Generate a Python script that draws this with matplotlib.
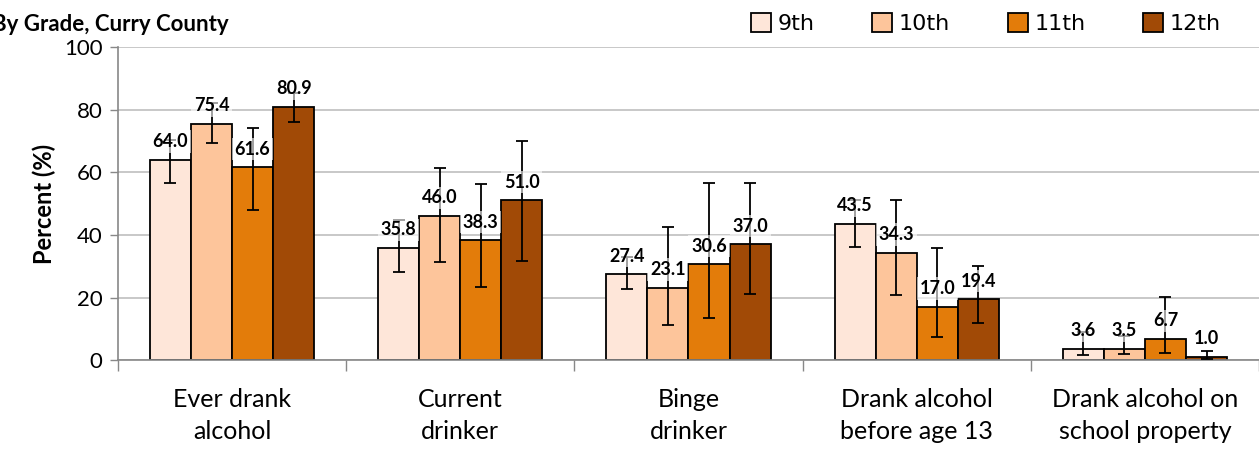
import numpy as np
import matplotlib.pyplot as plt

categories = ['Ever drank\nalcohol', 'Current\ndrinker', 'Binge\ndrinker',
              'Drank alcohol\nbefore age 13', 'Drank alcohol on\nschool property']
grades = ['9th', '10th', '11th', '12th']
colors = ['#FEE6D9', '#FDC59B', '#E37C0A', '#A14A06']

values = {
    '9th':  [64.0, 35.8, 27.4, 43.5, 3.6],
    '10th': [75.4, 46.0, 23.1, 34.3, 3.5],
    '11th': [61.6, 38.3, 30.6, 17.0, 6.7],
    '12th': [80.9, 51.0, 37.0, 19.4, 1.0],
}
# confidence interval bounds
ci_low = {
    '9th':  [56.5, 28.1, 22.7, 36.1, 1.6],
    '10th': [69.3, 31.3, 11.2, 20.8, 1.9],
    '11th': [47.9, 23.3, 13.4, 7.3, 2.2],
    '12th': [76.0, 31.6, 21.1, 11.8, 0.2],
}
ci_high = {
    '9th':  [70.3, 44.7, 32.9, 51.1, 9.0],
    '10th': [82.1, 61.3, 42.5, 51.1, 7.7],
    '11th': [74.1, 56.2, 56.5, 35.8, 20.1],
    '12th': [85.3, 70.0, 56.5, 30.0, 2.9],
}

plt.rcParams['font.family'] = ['Lato', 'DejaVu Sans']

fig = plt.figure(figsize=(12.59, 4.49), dpi=100)
ax = fig.add_axes([0.0937, 0.198, 0.9063, 0.697])

x = np.arange(len(categories))
w = 0.18
for i, g in enumerate(grades):
    xs = x + (i - 1.5) * w
    v = np.array(values[g])
    lo = v - np.array(ci_low[g])
    hi = np.array(ci_high[g]) - v
    ax.bar(xs, v, w, color=colors[i], edgecolor='black', linewidth=1.3,
           label=g, zorder=2)
    ax.errorbar(xs, v, yerr=[lo, hi], fmt='none', ecolor='black',
                elinewidth=1.3, capsize=4, capthick=1.3, zorder=3)
    for xi, vi in zip(xs, v):
        ax.annotate(f'{vi:.1f}', (xi, vi), xytext=(0, 7), textcoords='offset points',
                    ha='center', va='bottom', fontsize=13, fontweight='bold',
                    bbox=dict(boxstyle='square,pad=0.15', fc='white', ec='none', alpha=0.6),
                    zorder=4)

ax.set_xlim(-0.5, 4.5)
ax.set_ylim(0, 100)
ax.set_yticks(range(0, 101, 20))
ax.tick_params(axis='y', labelsize=16, length=6, color='#888888', width=1, pad=5)
ax.yaxis.grid(True, color='#BFBFBF', linewidth=1.2, zorder=0)
ax.set_axisbelow(True)

ax.set_xticks(np.arange(-0.5, 5, 1))
ax.set_xticklabels([])
ax.set_xticks(x, minor=True)
ax.set_xticklabels(categories, minor=True, fontsize=18, linespacing=1.5)
ax.tick_params(axis='x', which='major', length=8, color='#888888', width=1, direction='out')
ax.tick_params(axis='x', which='minor', length=0, pad=20)

for s in ['top', 'right']:
    ax.spines[s].set_visible(False)
ax.spines['left'].set_color('#888888')
ax.spines['bottom'].set_color('#888888')
ax.spines['left'].set_linewidth(1.2)
ax.spines['bottom'].set_linewidth(1.2)

ax.set_ylabel('Percent (%)', fontsize=17, fontweight='bold', labelpad=6)

fig.text(-0.006, 0.945, 'By Grade, Curry County', fontsize=16, fontweight='bold',
         ha='left', va='center')

fig.legend(loc='center', bbox_to_anchor=(0.783, 0.947), ncol=4, frameon=False,
           handlelength=0.9, handleheight=0.9, handletextpad=0.3, columnspacing=2.6,
           prop={'family': 'DejaVu Sans', 'size': 16})

plt.savefig('out.png', dpi=100)
